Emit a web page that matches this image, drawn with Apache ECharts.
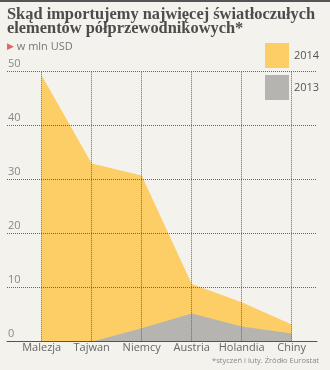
<!DOCTYPE html>
<html>
<head>
<meta charset="utf-8">
<script src="https://cdn.jsdelivr.net/npm/echarts@6/dist/echarts.min.js"></script>
<style>
html,body{margin:0;padding:0;background:#f4f2ed;}
#c{width:330px;height:370px;}
</style>
</head>
<body>
<div id="c"></div>
<script>
const categories = ['Malezja', 'Tajwan', 'Niemcy', 'Austria', 'Holandia', 'Chiny'];
const values2014 = [49.3, 33.0, 30.8, 10.7, 7.3, 3.2];
const values2013 = [0, 0, 2.5, 5.2, 2.8, 1.5];
const yTicks = [0, 10, 20, 30, 40, 50];

const chart = echarts.init(document.getElementById('c'));
const TOP = 71.7, BOTTOM = 28.3;
const sans = 'Open Sans';
const dot = {color: '#666', type: [1, 1], width: 1};

chart.setOption({
  backgroundColor: '#f4f2ed',
  animation: false,
  title: [
    {
      text: 'Skąd importujemy najwięcej światłoczułych\nelementów półprzewodnikowych*',
      left: 7, top: 8, padding: 0,
      textStyle: {fontFamily: 'Liberation Serif', fontWeight: 'bold', fontSize: 16.4, lineHeight: 14, color: '#4c4c4c'}
    },
    {
      text: '{t|▶} w mln USD',
      left: 7, top: 41, padding: 0,
      textStyle: {fontFamily: sans, fontSize: 11, fontWeight: 'normal', color: '#777',
        rich: {t: {color: '#e06464', fontSize: 9, fontFamily: 'DejaVu Sans'}}}
    },
    {
      text: '*styczeń i luty. Źródło Eurostat',
      right: 11, top: 357, padding: 0,
      textStyle: {fontFamily: sans, fontSize: 7.5, color: '#888', fontWeight: 'normal'}
    }
  ],
  graphic: [{type: 'rect', shape: {x: 0, y: 0, width: 330, height: 2}, style: {fill: '#555'}}],
  legend: {
    data: ['2014', '2013'],
    orient: 'vertical',
    left: 265, top: 43, padding: 0,
    itemWidth: 24, itemHeight: 25, itemGap: 7,
    icon: 'rect',
    textStyle: {fontFamily: sans, fontSize: 11, color: '#555'}
  },
  grid: [
    {left: 7, right: 13, top: TOP, bottom: BOTTOM},
    {left: 41.7, right: 38.3, top: TOP, bottom: BOTTOM}
  ],
  xAxis: [
    {gridIndex: 0, type: 'value', min: 0, max: 1, z: 5,
      axisLine: {show: true, lineStyle: {color: '#555', width: 1}},
      axisTick: {show: false}, axisLabel: {show: false}, splitLine: {show: false}},
    {gridIndex: 1, type: 'category', data: categories, boundaryGap: false, z: 4,
      axisLine: {show: false}, axisTick: {show: false},
      axisLabel: {interval: 0, fontFamily: sans, fontSize: 11, color: '#666', margin: 1},
      splitLine: {show: true, interval: 0, lineStyle: dot}}
  ],
  yAxis: [
    {gridIndex: 0, type: 'value', min: 0, max: 50, interval: 10, z: 4,
      axisLine: {show: false}, axisTick: {show: false},
      axisLabel: {inside: true, margin: 1, verticalAlign: 'bottom', padding: [0, 0, 2, 0],
        fontFamily: sans, fontSize: 11, color: '#888',
        formatter: v => yTicks.includes(v) ? String(v) : ''},
      splitLine: {show: true, lineStyle: dot}},
    {gridIndex: 1, type: 'value', min: 0, max: 50, interval: 10, show: false, splitLine: {show: false}}
  ],
  series: [
    {name: '2014', type: 'line', xAxisIndex: 1, yAxisIndex: 1, data: values2014,
      symbol: 'none', lineStyle: {width: 0}, itemStyle: {color: '#fdcd66'},
      areaStyle: {color: '#fdcd66', opacity: 1}, z: 1},
    {name: '2013', type: 'line', xAxisIndex: 1, yAxisIndex: 1, data: values2013,
      symbol: 'none', lineStyle: {width: 0}, itemStyle: {color: '#b6b4b1'},
      areaStyle: {color: '#b6b4b1', opacity: 1}, z: 2}
  ]
});
</script>
</body>
</html>
